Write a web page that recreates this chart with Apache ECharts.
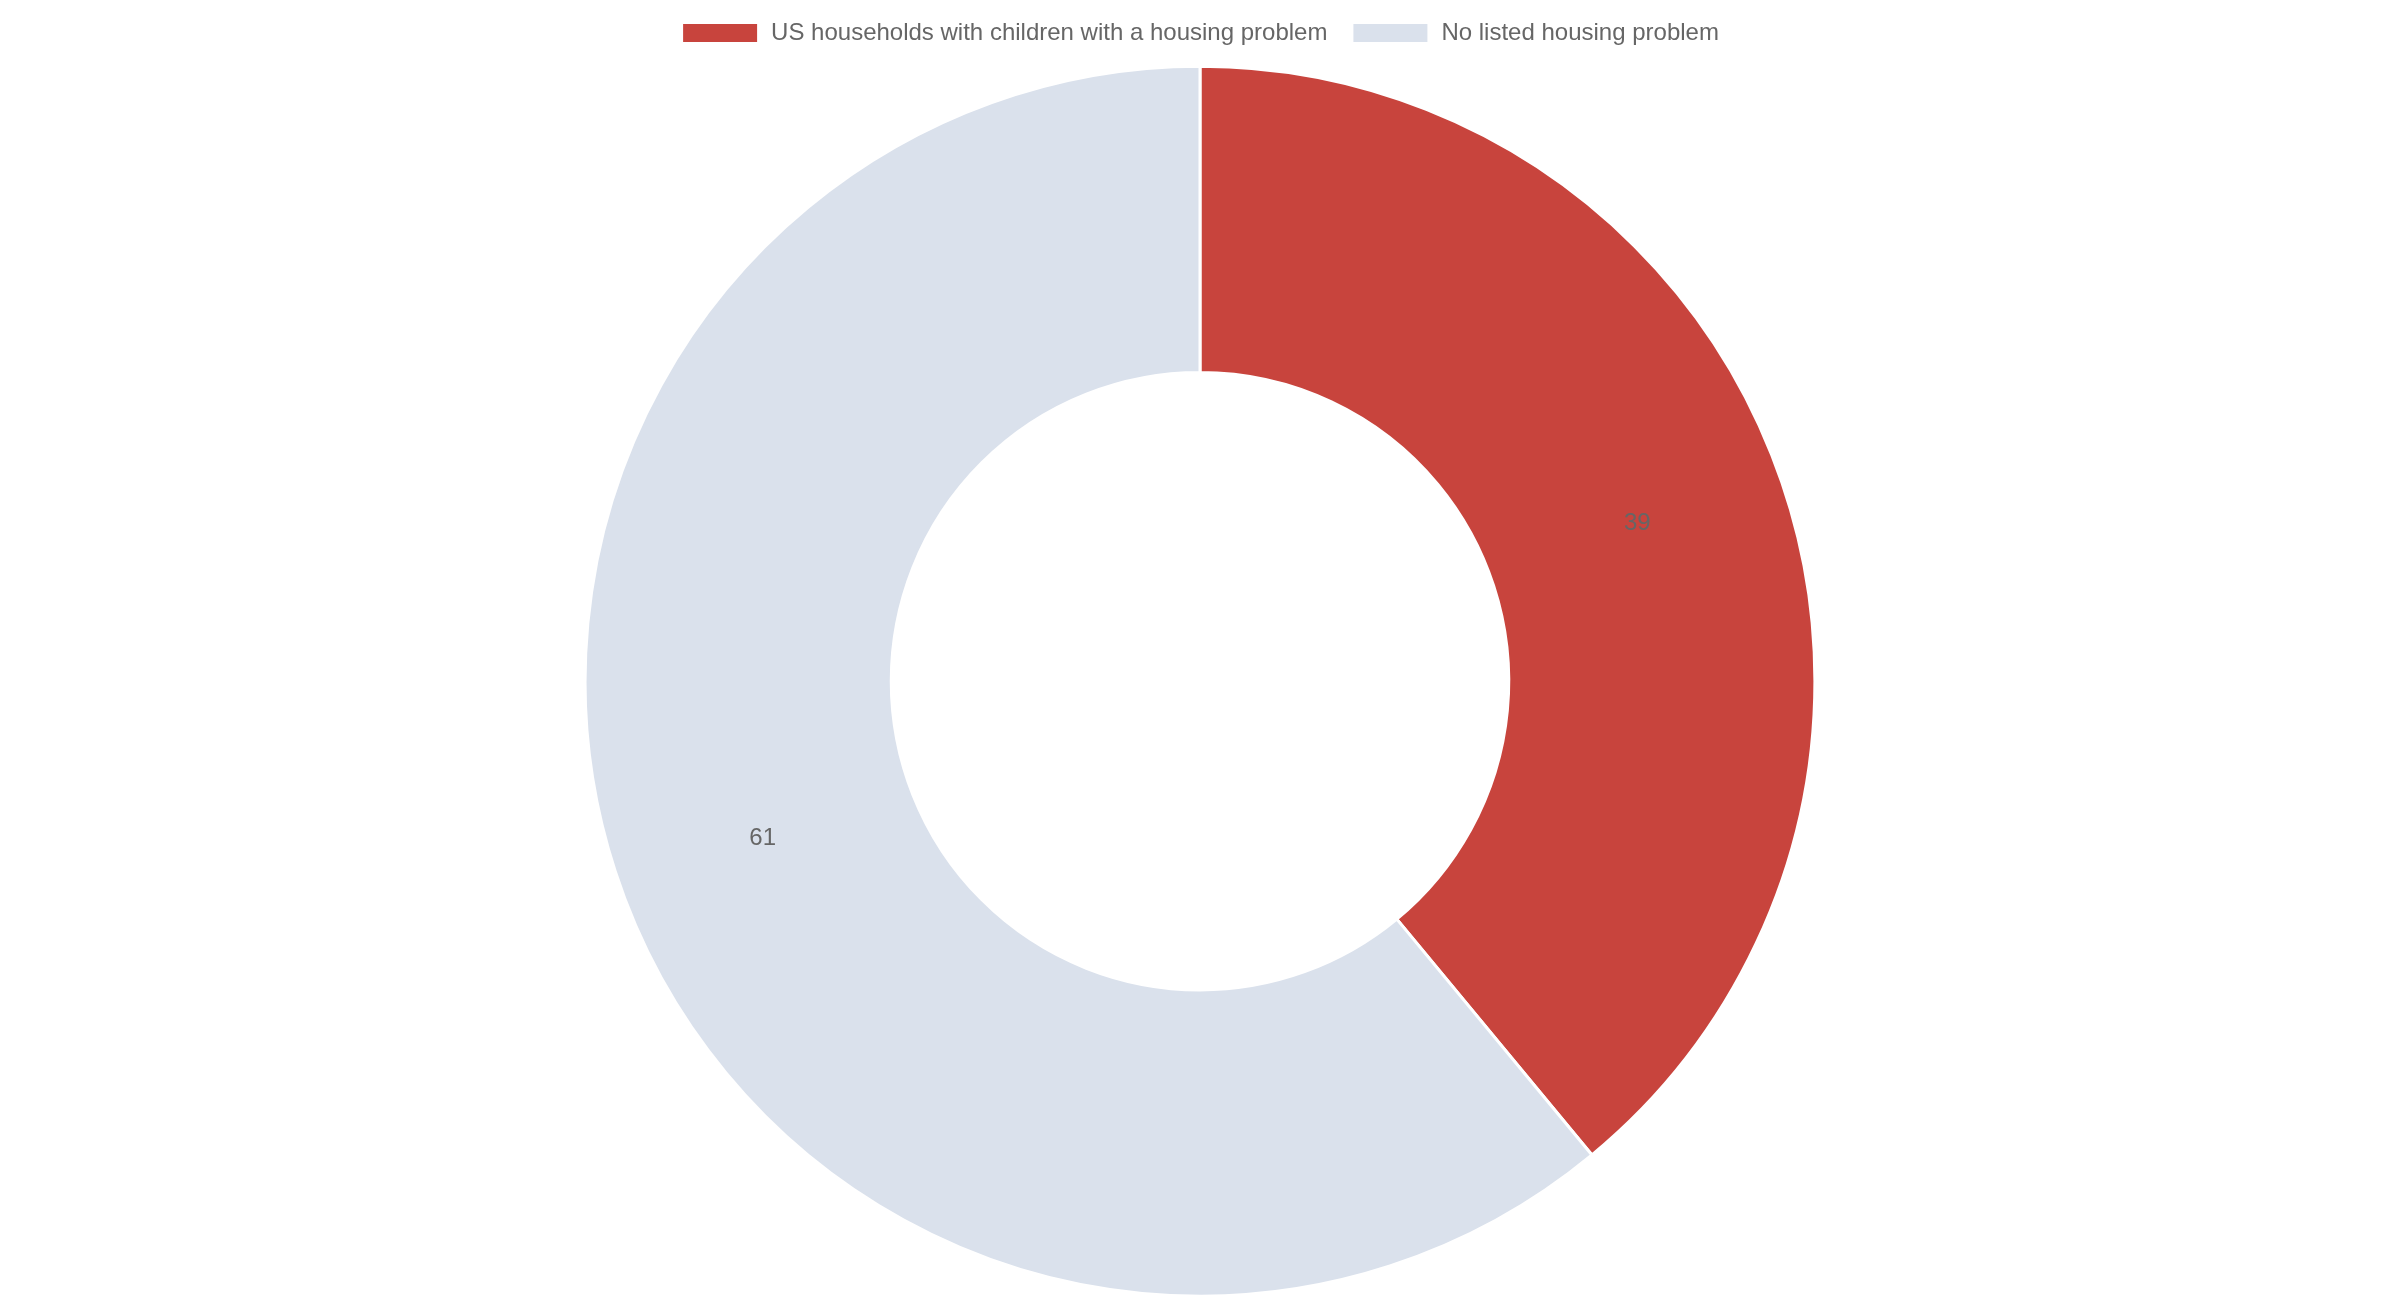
<!DOCTYPE html>
<html>
<head>
<meta charset="utf-8">
<script src="https://cdn.jsdelivr.net/npm/echarts@6/dist/echarts.min.js"></script>
<style>
  html, body { margin: 0; padding: 0; background: #fff; }
  #chart { width: 2400px; height: 1300px; }
</style>
</head>
<body>
<div id="chart"></div>
<script>
const categories = ['US households with children with a housing problem', 'No listed housing problem'];
const values = [39, 61];
const colors = ['#c8443d', '#dae1ec'];

const chart = echarts.init(document.getElementById('chart'));

const option = {
  backgroundColor: '#ffffff',
  textStyle: { fontFamily: 'Liberation Sans, Arial, sans-serif' },
  legend: {
    top: 16,
    left: 'center',
    icon: 'rect',
    itemWidth: 76,
    itemHeight: 20,
    itemGap: 24,
    textStyle: { fontSize: 24, color: '#666666', padding: [0, 0, 0, 8] },
    data: categories
  },
  series: [
    {
      type: 'pie',
      center: ['50%', '52.4%'],
      radius: ['47.5%', '94.6%'],
      startAngle: 90,
      clockwise: true,
      avoidLabelOverlap: false,
      itemStyle: { borderColor: '#ffffff', borderWidth: 3 },
      label: {
        show: true,
        position: 'inside',
        formatter: '{c}',
        fontSize: 24,
        color: '#666666'
      },
      labelLine: { show: false },
      data: categories.map((name, i) => ({
        name: name,
        value: values[i],
        itemStyle: { color: colors[i] }
      }))
    }
  ]
};

chart.setOption(option);
</script>
</body>
</html>
